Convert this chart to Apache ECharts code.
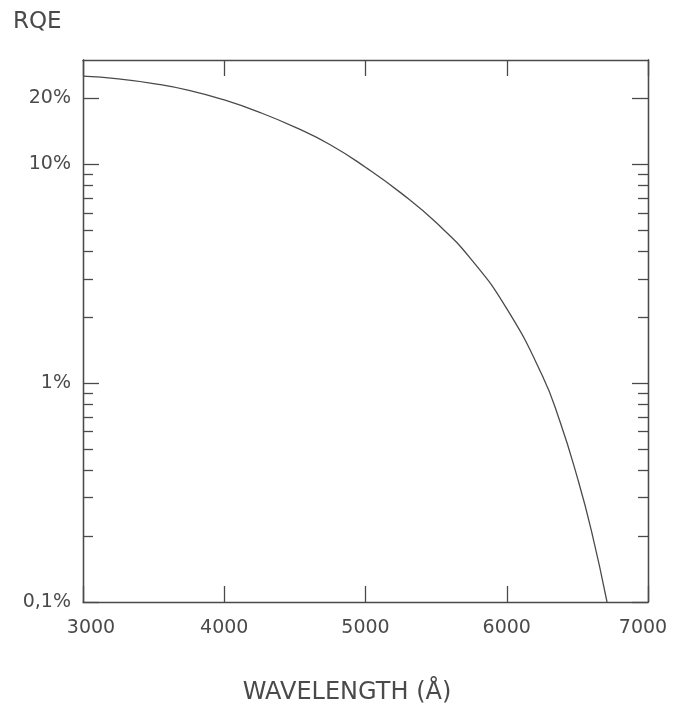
<!DOCTYPE html>
<html><head><meta charset="utf-8">
<style>html,body{margin:0;padding:0;background:#fff}#c{width:680px;height:710px}</style>
<script src="https://cdn.jsdelivr.net/npm/echarts@6/dist/echarts.min.js"></script>
</head><body><div id="c"></div>
<script>
// Data (wavelength in Å, RQE in %)
const wavelength = [3000, 3250, 3500, 3750, 4000, 4250, 4500, 4750, 5000, 5250, 5500, 5750, 6000, 6250, 6375, 6500, 6600, 6710];
const rqe        = [25.3, 24.6, 23.4, 21.8, 19.7, 17.3, 14.8, 12.3, 9.7, 7.41, 5.42, 3.67, 2.19, 1.09, 0.673, 0.37, 0.211, 0.1];

const xTicks = [3000, 4000, 5000, 6000, 7000];
const xTickLabels = ['3000', '4000', '5000', '6000', '7000'];
const yMajorTicks = [0.1, 1, 10, 20];
const yMajorLabels = ['0,1%', '1%', '10%', '20%'];
const yMinorTicks = [0.2, 0.3, 0.4, 0.5, 0.6, 0.7, 0.8, 0.9, 2, 3, 4, 5, 6, 7, 8, 9];
const yMin = 0.1, yMax = 30;
const xTitle = 'WAVELENGTH (Å)';
const yTitle = 'RQE';

const ink = '#4a4a4a';
const font = 'DejaVu Sans';
const lineStyle = {color: ink, width: 1.3};

function yAxis(pos, ticks, len, showLabel) {
  return {
    type: 'log', logBase: 10, min: yMin, max: yMax, position: pos,
    axisLine: {show: true, lineStyle: lineStyle},
    axisTick: {show: true, inside: true, length: len, lineStyle: lineStyle, customValues: ticks},
    axisLabel: showLabel ? {
      show: true, customValues: ticks, margin: 12, color: ink, fontFamily: font, fontSize: 19,
      formatter: v => { const i = yMajorTicks.findIndex(t => Math.abs(t - v) < 1e-9); return i >= 0 ? yMajorLabels[i] : ''; }
    } : {show: false},
    splitLine: {show: false}, minorTick: {show: false}
  };
}
function xAxis(pos, showLabel) {
  return {
    type: 'value', min: 3000, max: 7000, interval: 1000, position: pos,
    axisLine: {show: true, onZero: false, lineStyle: lineStyle},
    axisTick: {show: true, inside: true, length: 16, lineStyle: lineStyle},
    axisLabel: showLabel ? {
      show: true, margin: 17, color: ink, fontFamily: font, fontSize: 19,
      formatter: (v) => {
        const i = xTicks.indexOf(v);
        const s = i >= 0 ? xTickLabels[i] : '';
        if (i === 0) return '{f|' + s + '}';
        if (i === xTicks.length - 1) return '{l|' + s + '}';
        return s;
      },
      rich: {
        f: {padding: [0, 0, 0, 16], color: ink, fontFamily: font, fontSize: 19},
        l: {padding: [0, 10, 0, 0], color: ink, fontFamily: font, fontSize: 19}
      }
    } : {show: false},
    splitLine: {show: false}
  };
}

const chart = echarts.init(document.getElementById('c'), null, {renderer: 'canvas'});
chart.setOption({
  animation: false,
  backgroundColor: '#fff',
  grid: {left: 83, right: 32, top: 60, bottom: 108, containLabel: false},
  xAxis: [xAxis('bottom', true), xAxis('top', false)],
  yAxis: [
    yAxis('left', yMajorTicks, 16, true),
    yAxis('left', yMinorTicks, 10, false),
    yAxis('right', yMajorTicks, 16, false),
    yAxis('right', yMinorTicks, 10, false)
  ],
  graphic: [
    {type: 'text', left: 13, top: 11, style: {text: yTitle, fill: ink, font: '23px "' + font + '"'}},
    {type: 'text', x: 347, y: 693, style: {text: xTitle, fill: ink, font: '24px "' + font + '"', textAlign: 'center', textVerticalAlign: 'middle'}}
  ],
  series: [{
    type: 'line', xAxisIndex: 0, yAxisIndex: 0, smooth: 0.5, symbol: 'none',
    lineStyle: {color: ink, width: 1.3},
    data: wavelength.map((w, i) => [w, rqe[i]])
  }]
});
</script></body></html>
